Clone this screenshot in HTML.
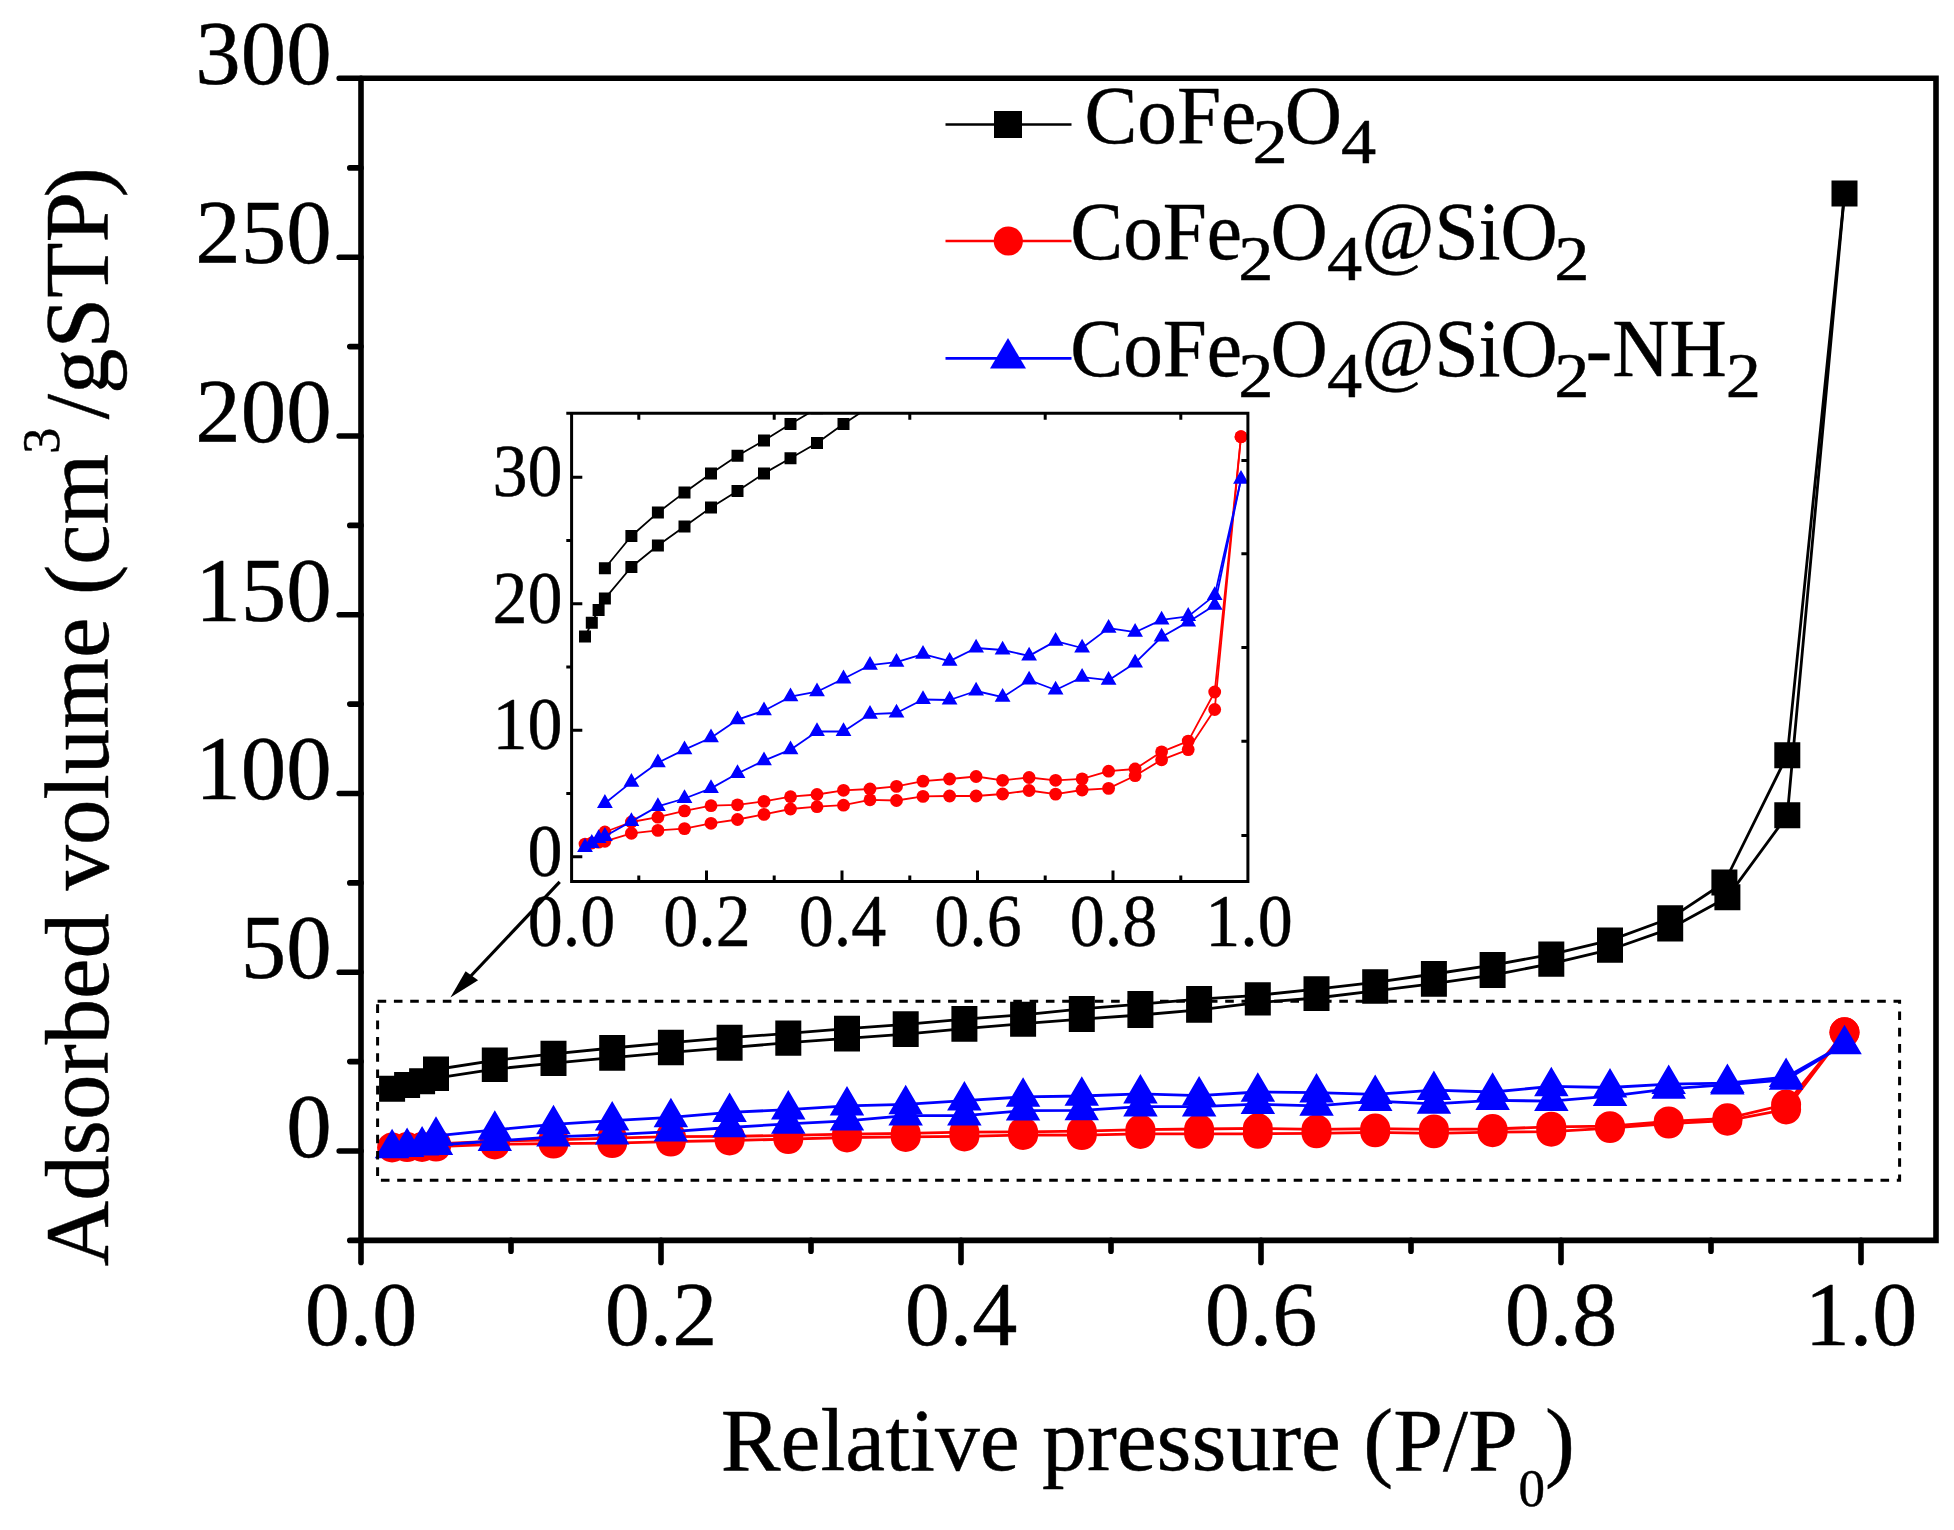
<!DOCTYPE html>
<html lang="en">
<head>
<meta charset="utf-8">
<title>N2 adsorption-desorption isotherms</title>
<style>
html,body{margin:0;padding:0;background:#fff;}
body{width:1954px;height:1530px;overflow:hidden;}
svg{display:block;}
svg text{white-space:pre;stroke:#000;stroke-width:0.45px;stroke-linejoin:round;}
</style>
</head>
<body>
<svg width="1954" height="1530" viewBox="0 0 1954 1530">
<rect width="1954" height="1530" fill="#fff"/>
<g id="main">
<polyline fill="none" stroke="#000" stroke-width="2.8" stroke-linejoin="round" points="392.1,1088.8 407.1,1084.9 422.1,1081.3 436,1078.1 494.8,1069.1 553.5,1063.1 612.2,1057.7 670.9,1052.3 729.6,1047.7 788.3,1042.7 847,1038.4 905.7,1034.1 964.4,1028.7 1023.1,1023.7 1081.8,1019.1 1140.4,1015 1199.1,1009.8 1257.8,1002.6 1316.5,998 1375.2,990.8 1433.9,983.7 1492.6,975.1 1551.3,963.7 1610,949.7 1670.2,928.6 1727.4,897.2 1787.3,815.3 1844.5,193.6"/>
<polyline fill="none" stroke="#000" stroke-width="2.8" stroke-linejoin="round" points="436,1069.5 494.8,1060.4 553.5,1053.8 612.2,1048 670.9,1042.7 729.6,1037.7 788.3,1033.4 847,1028.7 905.7,1024.3 964.4,1019.1 1023.1,1014.8 1081.8,1008.9 1140.4,1004.1 1199.1,999.1 1257.8,995.3 1316.5,989.2 1375.2,982.3 1433.9,974 1492.6,965.1 1551.3,954.4 1610,940.4 1670.2,918.3 1724.4,882.5 1787.3,755.2 1844.5,193.6"/>
<path fill="#000" d="M379.1 1075.8h26v26h-26zM394.1 1071.9h26v26h-26zM409.1 1068.3h26v26h-26zM423 1065.1h26v26h-26zM481.8 1056.1h26v26h-26zM540.5 1050.1h26v26h-26zM599.2 1044.7h26v26h-26zM657.9 1039.3h26v26h-26zM716.6 1034.7h26v26h-26zM775.3 1029.7h26v26h-26zM834 1025.4h26v26h-26zM892.7 1021.1h26v26h-26zM951.4 1015.7h26v26h-26zM1010.1 1010.7h26v26h-26zM1068.8 1006.1h26v26h-26zM1127.4 1002h26v26h-26zM1186.1 996.8h26v26h-26zM1244.8 989.6h26v26h-26zM1303.5 985h26v26h-26zM1362.2 977.8h26v26h-26zM1420.9 970.7h26v26h-26zM1479.6 962.1h26v26h-26zM1538.3 950.7h26v26h-26zM1597 936.7h26v26h-26zM1657.2 915.6h26v26h-26zM1714.4 884.2h26v26h-26zM1774.3 802.3h26v26h-26zM1831.5 180.6h26v26h-26zM423 1056.5h26v26h-26zM481.8 1047.4h26v26h-26zM540.5 1040.8h26v26h-26zM599.2 1035h26v26h-26zM657.9 1029.7h26v26h-26zM716.6 1024.7h26v26h-26zM775.3 1020.4h26v26h-26zM834 1015.7h26v26h-26zM892.7 1011.3h26v26h-26zM951.4 1006.1h26v26h-26zM1010.1 1001.8h26v26h-26zM1068.8 995.9h26v26h-26zM1127.4 991.1h26v26h-26zM1186.1 986.1h26v26h-26zM1244.8 982.3h26v26h-26zM1303.5 976.2h26v26h-26zM1362.2 969.3h26v26h-26zM1420.9 961h26v26h-26zM1479.6 952.1h26v26h-26zM1538.3 941.4h26v26h-26zM1597 927.4h26v26h-26zM1657.2 905.3h26v26h-26zM1711.4 869.5h26v26h-26zM1774.3 742.2h26v26h-26zM1831.5 180.6h26v26h-26z"/>
<polyline fill="none" stroke="#f00" stroke-width="2.8" stroke-linejoin="round" points="392.1,1147.4 407.1,1147.1 422.1,1146.9 436,1146.6 494.8,1144.4 553.5,1143.6 612.2,1143.1 670.9,1141.6 729.6,1140.5 788.3,1139.1 847,1137.5 905.7,1136.9 964.4,1136.4 1023.1,1134.9 1081.8,1135.1 1140.4,1133.9 1199.1,1133.8 1257.8,1133.8 1316.5,1133.3 1375.2,1132.3 1433.9,1133.3 1492.6,1132.2 1551.3,1131.7 1610,1128.1 1668.7,1123.6 1727.4,1120.7 1786.1,1109.4 1844.5,1032.3"/>
<polyline fill="none" stroke="#f00" stroke-width="2.8" stroke-linejoin="round" points="436,1144 494.8,1141.2 553.5,1139.8 612.2,1138.1 670.9,1136.6 729.6,1136.3 788.3,1135.4 847,1134.1 905.7,1133.4 964.4,1132.2 1023.1,1131.9 1081.8,1131.1 1140.4,1129.6 1199.1,1129 1257.8,1128.3 1316.5,1129.4 1375.2,1128.6 1433.9,1129.4 1492.6,1129 1551.3,1126.8 1610,1126.2 1668.7,1121.4 1727.4,1118.3 1786.1,1104.5 1844.5,1032.3"/>
<circle cx="392.1" cy="1147.4" r="15" fill="#f00"/>
<circle cx="407.1" cy="1147.1" r="15" fill="#f00"/>
<circle cx="422.1" cy="1146.9" r="15" fill="#f00"/>
<circle cx="436" cy="1146.6" r="15" fill="#f00"/>
<circle cx="494.8" cy="1144.4" r="15" fill="#f00"/>
<circle cx="553.5" cy="1143.6" r="15" fill="#f00"/>
<circle cx="612.2" cy="1143.1" r="15" fill="#f00"/>
<circle cx="670.9" cy="1141.6" r="15" fill="#f00"/>
<circle cx="729.6" cy="1140.5" r="15" fill="#f00"/>
<circle cx="788.3" cy="1139.1" r="15" fill="#f00"/>
<circle cx="847" cy="1137.5" r="15" fill="#f00"/>
<circle cx="905.7" cy="1136.9" r="15" fill="#f00"/>
<circle cx="964.4" cy="1136.4" r="15" fill="#f00"/>
<circle cx="1023.1" cy="1134.9" r="15" fill="#f00"/>
<circle cx="1081.8" cy="1135.1" r="15" fill="#f00"/>
<circle cx="1140.4" cy="1133.9" r="15" fill="#f00"/>
<circle cx="1199.1" cy="1133.8" r="15" fill="#f00"/>
<circle cx="1257.8" cy="1133.8" r="15" fill="#f00"/>
<circle cx="1316.5" cy="1133.3" r="15" fill="#f00"/>
<circle cx="1375.2" cy="1132.3" r="15" fill="#f00"/>
<circle cx="1433.9" cy="1133.3" r="15" fill="#f00"/>
<circle cx="1492.6" cy="1132.2" r="15" fill="#f00"/>
<circle cx="1551.3" cy="1131.7" r="15" fill="#f00"/>
<circle cx="1610" cy="1128.1" r="15" fill="#f00"/>
<circle cx="1668.7" cy="1123.6" r="15" fill="#f00"/>
<circle cx="1727.4" cy="1120.7" r="15" fill="#f00"/>
<circle cx="1786.1" cy="1109.4" r="15" fill="#f00"/>
<circle cx="1844.5" cy="1032.3" r="15" fill="#f00"/>
<circle cx="436" cy="1144" r="15" fill="#f00"/>
<circle cx="494.8" cy="1141.2" r="15" fill="#f00"/>
<circle cx="553.5" cy="1139.8" r="15" fill="#f00"/>
<circle cx="612.2" cy="1138.1" r="15" fill="#f00"/>
<circle cx="670.9" cy="1136.6" r="15" fill="#f00"/>
<circle cx="729.6" cy="1136.3" r="15" fill="#f00"/>
<circle cx="788.3" cy="1135.4" r="15" fill="#f00"/>
<circle cx="847" cy="1134.1" r="15" fill="#f00"/>
<circle cx="905.7" cy="1133.4" r="15" fill="#f00"/>
<circle cx="964.4" cy="1132.2" r="15" fill="#f00"/>
<circle cx="1023.1" cy="1131.9" r="15" fill="#f00"/>
<circle cx="1081.8" cy="1131.1" r="15" fill="#f00"/>
<circle cx="1140.4" cy="1129.6" r="15" fill="#f00"/>
<circle cx="1199.1" cy="1129" r="15" fill="#f00"/>
<circle cx="1257.8" cy="1128.3" r="15" fill="#f00"/>
<circle cx="1316.5" cy="1129.4" r="15" fill="#f00"/>
<circle cx="1375.2" cy="1128.6" r="15" fill="#f00"/>
<circle cx="1433.9" cy="1129.4" r="15" fill="#f00"/>
<circle cx="1492.6" cy="1129" r="15" fill="#f00"/>
<circle cx="1551.3" cy="1126.8" r="15" fill="#f00"/>
<circle cx="1610" cy="1126.2" r="15" fill="#f00"/>
<circle cx="1668.7" cy="1121.4" r="15" fill="#f00"/>
<circle cx="1727.4" cy="1118.3" r="15" fill="#f00"/>
<circle cx="1786.1" cy="1104.5" r="15" fill="#f00"/>
<circle cx="1844.5" cy="1032.3" r="15" fill="#f00"/>
<polyline fill="none" stroke="#00f" stroke-width="2.8" stroke-linejoin="round" points="392.1,1148.4 407.1,1147.2 422.1,1145.8 436,1145.2 494.8,1141 553.5,1136.8 612.2,1134.6 670.9,1131.7 729.6,1127.5 788.3,1123.8 847,1120.8 905.7,1115.6 964.4,1115.6 1023.1,1110.7 1081.8,1110.4 1140.4,1106.6 1199.1,1106.7 1257.8,1104.2 1316.5,1105.9 1375.2,1101.1 1433.9,1103.9 1492.6,1100.3 1551.3,1101.1 1610,1096.2 1668.7,1088.9 1727.4,1084.6 1786.1,1079.9 1844.5,1044.3"/>
<polyline fill="none" stroke="#00f" stroke-width="2.8" stroke-linejoin="round" points="436,1135.9 494.8,1129.9 553.5,1124.4 612.2,1120.7 670.9,1117.4 729.6,1112.3 788.3,1109.7 847,1105.8 905.7,1104.4 964.4,1100.7 1023.1,1096.9 1081.8,1096 1140.4,1093.8 1199.1,1095.7 1257.8,1092 1316.5,1092.6 1375.2,1094.3 1433.9,1090.1 1492.6,1092 1551.3,1086.4 1610,1087.5 1668.7,1084.1 1727.4,1083.1 1786.1,1077.1 1844.5,1044.3"/>
<path fill="#00f" d="M392.1 1128.7L409.3 1158.2L374.8 1158.2zM407.1 1127.5L424.3 1157L389.8 1157zM422.1 1126.1L439.3 1155.6L404.8 1155.6zM436 1125.6L453.2 1155.1L418.8 1155.1zM494.8 1121.4L512 1150.9L477.6 1150.9zM553.5 1117.1L570.7 1146.6L536.2 1146.6zM612.2 1114.9L629.4 1144.4L594.9 1144.4zM670.9 1112L688.1 1141.5L653.6 1141.5zM729.6 1107.8L746.8 1137.3L712.3 1137.3zM788.3 1104.2L805.5 1133.7L771 1133.7zM847 1101.1L864.2 1130.6L829.7 1130.6zM905.7 1095.9L922.9 1125.4L888.4 1125.4zM964.4 1095.9L981.6 1125.4L947.1 1125.4zM1023.1 1091L1040.3 1120.5L1005.8 1120.5zM1081.8 1090.7L1099 1120.2L1064.5 1120.2zM1140.4 1086.9L1157.7 1116.4L1123.2 1116.4zM1199.1 1087L1216.4 1116.5L1181.9 1116.5zM1257.8 1084.5L1275.1 1114L1240.6 1114zM1316.5 1086.3L1333.8 1115.8L1299.3 1115.8zM1375.2 1081.4L1392.5 1110.9L1358 1110.9zM1433.9 1084.2L1451.2 1113.7L1416.7 1113.7zM1492.6 1080.6L1509.9 1110.1L1475.4 1110.1zM1551.3 1081.5L1568.6 1111L1534.1 1111zM1610 1076.6L1627.3 1106.1L1592.8 1106.1zM1668.7 1069.2L1685.9 1098.7L1651.4 1098.7zM1727.4 1065L1744.6 1094.5L1710.1 1094.5zM1786.1 1060.3L1803.3 1089.8L1768.8 1089.8zM1844.5 1024.7L1861.8 1054.2L1827.2 1054.2zM436 1116.2L453.2 1145.7L418.8 1145.7zM494.8 1110.2L512 1139.7L477.6 1139.7zM553.5 1104.8L570.7 1134.3L536.2 1134.3zM612.2 1101.1L629.4 1130.6L594.9 1130.6zM670.9 1097.7L688.1 1127.2L653.6 1127.2zM729.6 1092.6L746.8 1122.1L712.3 1122.1zM788.3 1090.1L805.5 1119.6L771 1119.6zM847 1086.1L864.2 1115.6L829.7 1115.6zM905.7 1084.7L922.9 1114.2L888.4 1114.2zM964.4 1081.1L981.6 1110.6L947.1 1110.6zM1023.1 1077.2L1040.3 1106.7L1005.8 1106.7zM1081.8 1076.3L1099 1105.8L1064.5 1105.8zM1140.4 1074.1L1157.7 1103.6L1123.2 1103.6zM1199.1 1076.1L1216.4 1105.6L1181.9 1105.6zM1257.8 1072.3L1275.1 1101.8L1240.6 1101.8zM1316.5 1072.9L1333.8 1102.4L1299.3 1102.4zM1375.2 1074.6L1392.5 1104.1L1358 1104.1zM1433.9 1070.4L1451.2 1099.9L1416.7 1099.9zM1492.6 1072.3L1509.9 1101.8L1475.4 1101.8zM1551.3 1066.7L1568.6 1096.2L1534.1 1096.2zM1610 1067.9L1627.3 1097.4L1592.8 1097.4zM1668.7 1064.4L1685.9 1093.9L1651.4 1093.9zM1727.4 1063.4L1744.6 1092.9L1710.1 1092.9zM1786.1 1057.5L1803.3 1087L1768.8 1087zM1844.5 1024.7L1861.8 1054.2L1827.2 1054.2z"/>
</g>
<g stroke="#000" stroke-width="5.6" stroke-linecap="round" fill="none">
<path d="M339.2 78.3H1936 V1240.4 H349.8"/>
<path d="M361 78.3V1262.4"/>
<path d="M339.2 1151H361M349.8 1061.6H361M339.2 972.2H361M349.8 882.9H361M339.2 793.5H361M349.8 704.1H361M339.2 614.8H361M349.8 525.4H361M339.2 436H361M349.8 346.6H361M339.2 257.2H361M349.8 167.9H361M511 1240.4V1251.2M661 1240.4V1262.4M811 1240.4V1251.2M961 1240.4V1262.4M1111 1240.4V1251.2M1261 1240.4V1262.4M1411 1240.4V1251.2M1561 1240.4V1262.4M1711 1240.4V1251.2M1861 1240.4V1262.4"/>
</g>
<rect x="377.6" y="1001.3" width="1522" height="179" fill="none" stroke="#000" stroke-width="3" stroke-dasharray="8.6 7.7"/>
<g font-family='"Liberation Serif", serif' font-size="90.9" fill="#000">
<text transform="translate(331.6 1156.8)" text-anchor="end">0</text>
<text transform="translate(331.6 978)" text-anchor="end">50</text>
<text transform="translate(331.6 799.3)" text-anchor="end">100</text>
<text transform="translate(331.6 620.5)" text-anchor="end">150</text>
<text transform="translate(331.6 441.8)" text-anchor="end">200</text>
<text transform="translate(331.6 263.1)" text-anchor="end">250</text>
<text transform="translate(331.6 84.3)" text-anchor="end">300</text>
<text transform="translate(361 1345.0) scale(0.992 1)" text-anchor="middle">0.0</text>
<text transform="translate(661 1345.0) scale(0.992 1)" text-anchor="middle">0.2</text>
<text transform="translate(961 1345.0) scale(0.992 1)" text-anchor="middle">0.4</text>
<text transform="translate(1261 1345.0) scale(0.992 1)" text-anchor="middle">0.6</text>
<text transform="translate(1561 1345.0) scale(0.992 1)" text-anchor="middle">0.8</text>
<text transform="translate(1861 1345.0) scale(0.992 1)" text-anchor="middle">1.0</text>
</g>
<text font-family='"Liberation Serif", serif' font-size="89.7" fill="#000" x="720.8" y="1469.8">Relative pressure (P/P<tspan font-size="53" dx="0.5" dy="36.5">0</tspan><tspan dy="-36.5">)</tspan></text>
<text font-family='"Liberation Serif", serif' font-size="90.9" fill="#000" transform="translate(108.4 1266.5) rotate(-90)" x="0" y="0">Adsorbed volume (cm<tspan font-size="52" dy="-49">3</tspan><tspan dy="49" dx="8.5">/gSTP</tspan><tspan dx="-5.5">)</tspan></text>
<g id="legend">
<path d="M945.5 124.5H1071.5" stroke="#000" stroke-width="2.6"/>
<rect x="994" y="111" width="28" height="27" fill="#000"/>
<path d="M945.5 241H1071.5" stroke="#f00" stroke-width="2.6"/>
<circle cx="1008.3" cy="241" r="14.6" fill="#f00"/>
<path d="M945.5 358.4H1071.5" stroke="#00f" stroke-width="2.6"/>
<path d="M1008 338L1026 368.6H990z" fill="#00f"/>
<g font-family='"Liberation Serif", serif' font-size="83" fill="#000">
<text transform="translate(1084.5 142.8) scale(0.955 1)">CoFe</text>
<text transform="translate(1252.5 163.3) scale(1.1 1)" font-size="64">2</text>
<text transform="translate(1284.7 142.8) scale(0.955 1)">O</text>
<text transform="translate(1341 163.3) scale(1.1 1)" font-size="64">4</text>
<text transform="translate(1070.3 259.3) scale(0.955 1)">CoFe</text>
<text transform="translate(1238.3 279.8) scale(1.1 1)" font-size="64">2</text>
<text transform="translate(1270.5 259.3) scale(0.955 1)">O</text>
<text transform="translate(1327 279.8) scale(1.1 1)" font-size="64">4</text>
<text transform="translate(1361.5 259.3) scale(0.955 1)">@SiO</text>
<text transform="translate(1554.3 279.8) scale(1.1 1)" font-size="64">2</text>
<text transform="translate(1070.3 376.3) scale(0.955 1)">CoFe</text>
<text transform="translate(1238.3 396.8) scale(1.1 1)" font-size="64">2</text>
<text transform="translate(1270.5 376.3) scale(0.955 1)">O</text>
<text transform="translate(1327 396.8) scale(1.1 1)" font-size="64">4</text>
<text transform="translate(1361.5 376.3) scale(0.955 1)">@SiO</text>
<text transform="translate(1554.3 396.8) scale(1.1 1)" font-size="64">2</text>
<text transform="translate(1585.8 376.3) scale(0.955 1)">-NH</text>
<text transform="translate(1725.8 396.8) scale(1.1 1)" font-size="64">2</text>
</g>
</g>
<g id="inset">
<clipPath id="ic"><rect x="571.6" y="413.2" width="677.8" height="468.2"/></clipPath>
<g clip-path="url(#ic)">
<polyline fill="none" stroke="#000" stroke-width="1.8" stroke-linejoin="round" points="585,636.6 591.8,622.7 598.6,610 604.9,598.6 631.4,567 657.9,545.5 684.5,526.5 711,507.6 737.5,491.1 764,473.4 790.5,458.2 817,443 843.5,424.1 870,406.4 896.5,389.9 923,375.4 949.6,357 976.1,331.7 1002.6,315.3 1029.1,290 1055.6,264.7 1082.1,234.3 1108.6,193.8 1135.1,144.5 1161.6,69.9 1188.2,-41.4 1214.7,-331.1 1241,-2531"/>
<polyline fill="none" stroke="#000" stroke-width="1.8" stroke-linejoin="round" points="604.9,568.3 631.4,536 657.9,512.6 684.5,492.4 711,473.4 737.5,455.7 764,440.5 790.5,424.1 817,408.3 843.5,389.9 870,374.7 896.5,353.9 923,336.8 949.6,319.1 976.1,305.8 1002.6,284.2 1029.1,259.6 1055.6,230.5 1082.1,198.9 1108.6,161 1135.1,111.6 1161.6,33.2 1188.2,-93.3 1214.7,-543.7 1241,-2531"/>
<path fill="#000" d="M579 630.6h12v12h-12zM585.8 616.7h12v12h-12zM592.6 604h12v12h-12zM598.9 592.6h12v12h-12zM625.4 561h12v12h-12zM651.9 539.5h12v12h-12zM678.5 520.5h12v12h-12zM705 501.6h12v12h-12zM731.5 485.1h12v12h-12zM758 467.4h12v12h-12zM784.5 452.2h12v12h-12zM811 437h12v12h-12zM837.5 418.1h12v12h-12zM864 400.4h12v12h-12zM598.9 562.3h12v12h-12zM625.4 530h12v12h-12zM651.9 506.6h12v12h-12zM678.5 486.4h12v12h-12zM705 467.4h12v12h-12zM731.5 449.7h12v12h-12zM758 434.5h12v12h-12zM784.5 418.1h12v12h-12zM811 402.3h12v12h-12z"/>
<polyline fill="none" stroke="#f00" stroke-width="1.8" stroke-linejoin="round" points="585,844.1 591.8,843 598.6,842.2 604.9,841.3 631.4,833.3 657.9,830.4 684.5,828.6 711,823.3 737.5,819.5 764,814.4 790.5,809 817,806.7 843.5,805.2 870,799.8 896.5,800.5 923,796.4 949.6,796 976.1,796 1002.6,794 1029.1,790.5 1055.6,794.1 1082.1,790 1108.6,788.4 1135.1,775.7 1161.6,759.8 1188.2,749.6 1214.7,709.5 1241,436.7"/>
<polyline fill="none" stroke="#f00" stroke-width="1.8" stroke-linejoin="round" points="604.9,832 631.4,822 657.9,817.2 684.5,810.9 711,805.7 737.5,804.8 764,801.4 790.5,796.7 817,794.5 843.5,790.3 870,789 896.5,786.4 923,781.1 949.6,779 976.1,776.5 1002.6,780.3 1029.1,777.5 1055.6,780.3 1082.1,778.9 1108.6,771.2 1135.1,769 1161.6,751.8 1188.2,741.1 1214.7,692 1241,436.7"/>
<circle cx="585" cy="844.1" r="6.4" fill="#f00"/>
<circle cx="591.8" cy="843" r="6.4" fill="#f00"/>
<circle cx="598.6" cy="842.2" r="6.4" fill="#f00"/>
<circle cx="604.9" cy="841.3" r="6.4" fill="#f00"/>
<circle cx="631.4" cy="833.3" r="6.4" fill="#f00"/>
<circle cx="657.9" cy="830.4" r="6.4" fill="#f00"/>
<circle cx="684.5" cy="828.6" r="6.4" fill="#f00"/>
<circle cx="711" cy="823.3" r="6.4" fill="#f00"/>
<circle cx="737.5" cy="819.5" r="6.4" fill="#f00"/>
<circle cx="764" cy="814.4" r="6.4" fill="#f00"/>
<circle cx="790.5" cy="809" r="6.4" fill="#f00"/>
<circle cx="817" cy="806.7" r="6.4" fill="#f00"/>
<circle cx="843.5" cy="805.2" r="6.4" fill="#f00"/>
<circle cx="870" cy="799.8" r="6.4" fill="#f00"/>
<circle cx="896.5" cy="800.5" r="6.4" fill="#f00"/>
<circle cx="923" cy="796.4" r="6.4" fill="#f00"/>
<circle cx="949.6" cy="796" r="6.4" fill="#f00"/>
<circle cx="976.1" cy="796" r="6.4" fill="#f00"/>
<circle cx="1002.6" cy="794" r="6.4" fill="#f00"/>
<circle cx="1029.1" cy="790.5" r="6.4" fill="#f00"/>
<circle cx="1055.6" cy="794.1" r="6.4" fill="#f00"/>
<circle cx="1082.1" cy="790" r="6.4" fill="#f00"/>
<circle cx="1108.6" cy="788.4" r="6.4" fill="#f00"/>
<circle cx="1135.1" cy="775.7" r="6.4" fill="#f00"/>
<circle cx="1161.6" cy="759.8" r="6.4" fill="#f00"/>
<circle cx="1188.2" cy="749.6" r="6.4" fill="#f00"/>
<circle cx="1214.7" cy="709.5" r="6.4" fill="#f00"/>
<circle cx="1241" cy="436.7" r="6.4" fill="#f00"/>
<circle cx="604.9" cy="832" r="6.4" fill="#f00"/>
<circle cx="631.4" cy="822" r="6.4" fill="#f00"/>
<circle cx="657.9" cy="817.2" r="6.4" fill="#f00"/>
<circle cx="684.5" cy="810.9" r="6.4" fill="#f00"/>
<circle cx="711" cy="805.7" r="6.4" fill="#f00"/>
<circle cx="737.5" cy="804.8" r="6.4" fill="#f00"/>
<circle cx="764" cy="801.4" r="6.4" fill="#f00"/>
<circle cx="790.5" cy="796.7" r="6.4" fill="#f00"/>
<circle cx="817" cy="794.5" r="6.4" fill="#f00"/>
<circle cx="843.5" cy="790.3" r="6.4" fill="#f00"/>
<circle cx="870" cy="789" r="6.4" fill="#f00"/>
<circle cx="896.5" cy="786.4" r="6.4" fill="#f00"/>
<circle cx="923" cy="781.1" r="6.4" fill="#f00"/>
<circle cx="949.6" cy="779" r="6.4" fill="#f00"/>
<circle cx="976.1" cy="776.5" r="6.4" fill="#f00"/>
<circle cx="1002.6" cy="780.3" r="6.4" fill="#f00"/>
<circle cx="1029.1" cy="777.5" r="6.4" fill="#f00"/>
<circle cx="1055.6" cy="780.3" r="6.4" fill="#f00"/>
<circle cx="1082.1" cy="778.9" r="6.4" fill="#f00"/>
<circle cx="1108.6" cy="771.2" r="6.4" fill="#f00"/>
<circle cx="1135.1" cy="769" r="6.4" fill="#f00"/>
<circle cx="1161.6" cy="751.8" r="6.4" fill="#f00"/>
<circle cx="1188.2" cy="741.1" r="6.4" fill="#f00"/>
<circle cx="1214.7" cy="692" r="6.4" fill="#f00"/>
<circle cx="1241" cy="436.7" r="6.4" fill="#f00"/>
<polyline fill="none" stroke="#00f" stroke-width="1.8" stroke-linejoin="round" points="585,847.3 591.8,843.3 598.6,838.4 604.9,836.3 631.4,821.4 657.9,806.4 684.5,798.5 711,788.4 737.5,773.5 764,760.6 790.5,749.7 817,731.5 843.5,731.5 870,714.1 896.5,713 923,699.5 949.6,700 976.1,691 1002.6,697.2 1029.1,680 1055.6,690 1082.1,677.2 1108.6,680.2 1135.1,662.9 1161.6,637 1188.2,621.9 1214.7,605.2 1241,479.2"/>
<polyline fill="none" stroke="#00f" stroke-width="1.8" stroke-linejoin="round" points="604.9,803.3 631.4,782.1 657.9,762.7 684.5,749.6 711,737.7 737.5,719.7 764,710.7 790.5,696.7 817,691.7 843.5,678.8 870,665.2 896.5,662.1 923,654.2 949.6,661.1 976.1,648 1002.6,650 1029.1,655.9 1055.6,641.1 1082.1,648 1108.6,628.1 1135.1,632.2 1161.6,619.9 1188.2,616.4 1214.7,595.4 1241,479.2"/>
<path fill="#00f" d="M585 838.1L592.9 851.9L577.1 851.9zM591.8 834.1L599.7 847.9L583.9 847.9zM598.6 829.2L606.5 843L590.7 843zM604.9 827.1L612.8 840.9L597 840.9zM631.4 812.2L639.3 826L623.5 826zM657.9 797.2L665.8 811L650 811zM684.5 789.3L692.4 803.1L676.6 803.1zM711 779.2L718.9 793L703.1 793zM737.5 764.3L745.4 778.1L729.6 778.1zM764 751.4L771.9 765.2L756.1 765.2zM790.5 740.5L798.4 754.3L782.6 754.3zM817 722.3L824.9 736.1L809.1 736.1zM843.5 722.3L851.4 736.1L835.6 736.1zM870 704.9L877.9 718.7L862.1 718.7zM896.5 703.8L904.4 717.6L888.6 717.6zM923 690.3L930.9 704.1L915.1 704.1zM949.6 690.8L957.5 704.6L941.7 704.6zM976.1 681.8L984 695.6L968.2 695.6zM1002.6 688L1010.5 701.8L994.7 701.8zM1029.1 670.8L1037 684.6L1021.2 684.6zM1055.6 680.8L1063.5 694.6L1047.7 694.6zM1082.1 668L1090 681.8L1074.2 681.8zM1108.6 671L1116.5 684.8L1100.7 684.8zM1135.1 653.7L1143 667.5L1127.2 667.5zM1161.6 627.8L1169.5 641.6L1153.7 641.6zM1188.2 612.7L1196.1 626.5L1180.3 626.5zM1214.7 596L1222.6 609.8L1206.8 609.8zM1241 470L1248.9 483.8L1233.1 483.8zM604.9 794.1L612.8 807.9L597 807.9zM631.4 772.9L639.3 786.7L623.5 786.7zM657.9 753.5L665.8 767.3L650 767.3zM684.5 740.4L692.4 754.2L676.6 754.2zM711 728.5L718.9 742.3L703.1 742.3zM737.5 710.5L745.4 724.3L729.6 724.3zM764 701.5L771.9 715.3L756.1 715.3zM790.5 687.5L798.4 701.3L782.6 701.3zM817 682.5L824.9 696.3L809.1 696.3zM843.5 669.6L851.4 683.4L835.6 683.4zM870 656L877.9 669.8L862.1 669.8zM896.5 652.9L904.4 666.7L888.6 666.7zM923 645L930.9 658.8L915.1 658.8zM949.6 651.9L957.5 665.7L941.7 665.7zM976.1 638.8L984 652.6L968.2 652.6zM1002.6 640.8L1010.5 654.6L994.7 654.6zM1029.1 646.7L1037 660.5L1021.2 660.5zM1055.6 631.9L1063.5 645.7L1047.7 645.7zM1082.1 638.8L1090 652.6L1074.2 652.6zM1108.6 618.9L1116.5 632.7L1100.7 632.7zM1135.1 623L1143 636.8L1127.2 636.8zM1161.6 610.7L1169.5 624.5L1153.7 624.5zM1188.2 607.1L1196.1 621L1180.3 621zM1214.7 586.2L1222.6 600L1206.8 600zM1241 470L1248.9 483.8L1233.1 483.8z"/>
</g>
<g stroke="#000" stroke-width="3" fill="none" stroke-linecap="butt">
<path d="M566.3 413.2H1247.9 V881.4 H571.6 V413.2"/>
<path d="M571.6 856.7H582.3M571.6 730.2H582.3M571.6 603.7H582.3M571.6 477.2H582.3M566.3 793.5H571.6M566.3 667H571.6M566.3 540.5H571.6M638.8 881.4V875.4M706.5 881.4V870.4M774.2 881.4V875.4M842 881.4V870.4M909.8 881.4V875.4M977.5 881.4V870.4M1045.2 881.4V875.4M1113 881.4V870.4M1180.8 881.4V875.4M638.8 413.2V419.7M774.2 413.2V419.7M909.8 413.2V419.7M1045.2 413.2V419.7M1180.8 413.2V419.7M1247.9 460.5H1241.4M1247.9 553.8H1241.4M1247.9 647.5H1241.4M1247.9 741.2H1241.4M1247.9 835.6H1241.4"/>
</g>
<g font-family='"Liberation Serif", serif' font-size="74.5" fill="#000">
<text transform="translate(562.6 875.7) scale(0.94 1)" text-anchor="end">0</text>
<text transform="translate(562.6 749.2) scale(0.94 1)" text-anchor="end">10</text>
<text transform="translate(562.6 622.7) scale(0.94 1)" text-anchor="end">20</text>
<text transform="translate(562.6 496.2) scale(0.94 1)" text-anchor="end">30</text>
<text transform="translate(571.5 946.2) scale(0.94 1)" text-anchor="middle">0.0</text>
<text transform="translate(707 946.2) scale(0.94 1)" text-anchor="middle">0.2</text>
<text transform="translate(842.5 946.2) scale(0.94 1)" text-anchor="middle">0.4</text>
<text transform="translate(978 946.2) scale(0.94 1)" text-anchor="middle">0.6</text>
<text transform="translate(1113.5 946.2) scale(0.94 1)" text-anchor="middle">0.8</text>
<text transform="translate(1249 946.2) scale(0.94 1)" text-anchor="middle">1.0</text>
</g>
</g>
<path d="M559.7 881.9L468 979" stroke="#000" stroke-width="3.2" fill="none"/>
<path d="M450.4 997.5L465.6 971.3L478.1 980.2z" fill="#000"/>
</svg>
</body>
</html>
